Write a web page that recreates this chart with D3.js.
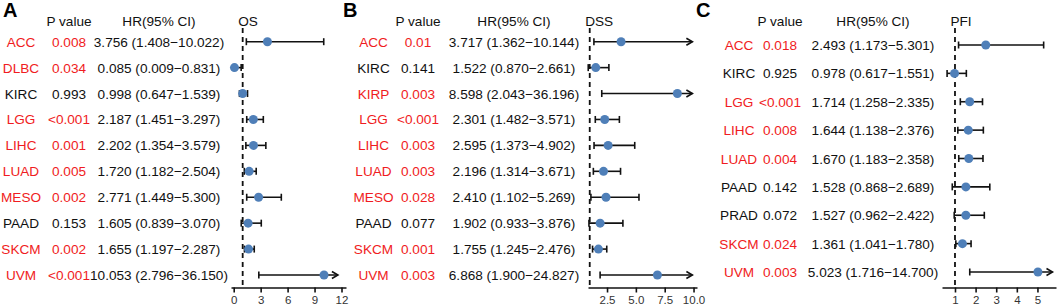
<!DOCTYPE html>
<html>
<head>
<meta charset="utf-8">
<script src="https://cdn.jsdelivr.net/npm/d3@7"></script>
<style>
  body { margin: 0; background: #fff; }
  svg text { font-family: "Liberation Sans", Arial, sans-serif; }
</style>
</head>
<body>
<svg id="chart" width="1059" height="308"></svg>
<script>
// ---- data ----
var osCancers = ["ACC","DLBC","KIRC","LGG","LIHC","LUAD","MESO","PAAD","SKCM","UVM"];
var osP = ["0.008","0.034","0.993","<0.001","0.001","0.005","0.002","0.153","0.002","<0.001"];
var osHR = [3.756, 0.085, 0.998, 2.187, 2.202, 1.720, 2.771, 1.605, 1.655, 10.053];
var osLow = [1.408, 0.009, 0.647, 1.451, 1.354, 1.182, 1.449, 0.839, 1.197, 2.796];
var osHigh = [10.022, 0.831, 1.539, 3.297, 3.579, 2.504, 5.300, 3.070, 2.287, 36.150];

var dssCancers = ["ACC","KIRC","KIRP","LGG","LIHC","LUAD","MESO","PAAD","SKCM","UVM"];
var dssP = ["0.01","0.141","0.003","<0.001","0.003","0.003","0.028","0.077","0.001","0.003"];
var dssHR = [3.717, 1.522, 8.598, 2.301, 2.595, 2.196, 2.410, 1.902, 1.755, 6.868];
var dssLow = [1.362, 0.870, 2.043, 1.482, 1.373, 1.314, 1.102, 0.933, 1.245, 1.900];
var dssHigh = [10.144, 2.661, 36.196, 3.571, 4.902, 3.671, 5.269, 3.876, 2.476, 24.827];

var pfiCancers = ["ACC","KIRC","LGG","LIHC","LUAD","PAAD","PRAD","SKCM","UVM"];
var pfiP = ["0.018","0.925","<0.001","0.008","0.004","0.142","0.072","0.024","0.003"];
var pfiHR = [2.493, 0.978, 1.714, 1.644, 1.670, 1.528, 1.527, 1.361, 5.023];
var pfiLow = [1.173, 0.617, 1.258, 1.138, 1.183, 0.868, 0.962, 1.041, 1.716];
var pfiHigh = [5.301, 1.551, 2.335, 2.376, 2.358, 2.689, 2.422, 1.780, 14.700];

var osTicks = [0, 3, 6, 9, 12];
var dssTicks = [2.5, 5.0, 7.5, 10.0];
var pfiTicks = [1, 2, 3, 4, 5];

// ---- layout per panel ----
var panels = [
  { letter: "A", letterX: 3, title: "OS", cancers: osCancers, p: osP, hr: osHR, lo: osLow, hi: osHigh,
    ticks: osTicks, fmt: d3.format("d"), dom: [-0.3, 12.5], rng: [231, 346], clip: 11.6,
    nameX: 21, pX: 69, hrX: 159, y0: 41.7, y1: 275 },
  { letter: "B", letterX: 343, title: "DSS", cancers: dssCancers, p: dssP, hr: dssHR, lo: dssLow, hi: dssHigh,
    ticks: dssTicks, fmt: d3.format(".1f"), dom: [0.85, 10.3], rng: [588, 697], clip: 9.9,
    nameX: 373.5, pX: 418, hrX: 514, y0: 41.7, y1: 275 },
  { letter: "C", letterX: 696, title: "PFI", cancers: pfiCancers, p: pfiP, hr: pfiHR, lo: pfiLow, hi: pfiHigh,
    ticks: pfiTicks, fmt: d3.format("d"), dom: [0.37, 5.9], rng: [942, 1056], clip: 5.73,
    nameX: 739, pX: 780, hrX: 873, y0: 45, y1: 272 }
];

var svg = d3.select("#chart");
var axisY = 287.5;
var red = "#f01c22", ink = "#111", blue = "#4f7fb8";

function pColor(p) {
  return (p.charAt(0) === "<" || +p < 0.05) ? red : ink;
}

panels.forEach(function(pn) {
  var g = svg.append("g");
  var x = d3.scaleLinear().domain(pn.dom).range(pn.rng);
  var y = d3.scalePoint().domain(d3.range(pn.cancers.length)).range([pn.y0, pn.y1]);

  // panel letter
  g.append("text")
    .attr("x", pn.letterX).attr("y", 17)
    .attr("font-size", "20px").attr("font-weight", "bold")
    .text(pn.letter);

  // headers
  g.append("text").attr("x", pn.pX).attr("y", 26)
    .attr("text-anchor", "middle").attr("font-size", "13.6px").attr("fill", ink)
    .text("P value");
  g.append("text").attr("x", pn.hrX).attr("y", 26)
    .attr("text-anchor", "middle").attr("font-size", "13.6px").attr("fill", ink)
    .text("HR(95% CI)");
  g.append("text").attr("x", x(1) - 4.5).attr("y", 26)
    .attr("font-size", "13.6px").attr("fill", ink)
    .text(pn.title);

  var rows = d3.range(pn.cancers.length);

  // text columns
  g.selectAll(".nm").data(rows).enter().append("text")
    .attr("x", pn.nameX).attr("y", function(i) { return y(i) + 5; })
    .attr("text-anchor", "middle").attr("font-size", "13.6px")
    .attr("fill", function(i) { return pColor(pn.p[i]); })
    .text(function(i) { return pn.cancers[i]; });

  g.selectAll(".pv").data(rows).enter().append("text")
    .attr("x", pn.pX).attr("y", function(i) { return y(i) + 5; })
    .attr("text-anchor", "middle").attr("font-size", "13.6px")
    .attr("fill", function(i) { return pColor(pn.p[i]); })
    .text(function(i) { return pn.p[i]; });

  g.selectAll(".hr").data(rows).enter().append("text")
    .attr("x", pn.hrX).attr("y", function(i) { return y(i) + 5; })
    .attr("text-anchor", "middle").attr("font-size", "13.6px")
    .attr("fill", ink)
    .text(function(i) {
      return pn.hr[i].toFixed(3) + " (" + pn.lo[i].toFixed(3) + "\u2212" + pn.hi[i].toFixed(3) + ")";
    });

  // reference line at HR = 1
  g.append("line")
    .attr("x1", x(1)).attr("x2", x(1))
    .attr("y1", 28).attr("y2", axisY)
    .attr("stroke", ink).attr("stroke-width", 1.8)
    .attr("stroke-dasharray", "5,4");

  // error bars
  rows.forEach(function(i) {
    var yy = y(i);
    var clipped = pn.hi[i] > pn.clip;
    var xr = x(clipped ? pn.clip : pn.hi[i]);
    var xl = x(pn.lo[i]);
    g.append("line").attr("x1", xl).attr("x2", xr).attr("y1", yy).attr("y2", yy)
      .attr("stroke", ink).attr("stroke-width", 1.6);
    g.append("line").attr("x1", xl).attr("x2", xl).attr("y1", yy - 3.5).attr("y2", yy + 3.5)
      .attr("stroke", ink).attr("stroke-width", 1.6);
    if (clipped) {
      g.append("path")
        .attr("d", "M" + (xr - 6) + "," + (yy - 3.5) + "L" + xr + "," + yy + "L" + (xr - 6) + "," + (yy + 3.5))
        .attr("fill", "none").attr("stroke", ink).attr("stroke-width", 1.6);
    } else {
      g.append("line").attr("x1", xr).attr("x2", xr).attr("y1", yy - 3.5).attr("y2", yy + 3.5)
        .attr("stroke", ink).attr("stroke-width", 1.6);
    }
  });

  g.selectAll(".pt").data(rows).enter().append("circle")
    .attr("cx", function(i) { return x(pn.hr[i]); })
    .attr("cy", function(i) { return y(i); })
    .attr("r", 4.5)
    .attr("fill", blue);

  // axis
  var ax = g.append("g")
    .attr("transform", "translate(0," + axisY + ")")
    .call(d3.axisBottom(x).tickValues(pn.ticks).tickFormat(pn.fmt).tickSize(5).tickSizeOuter(0));
  ax.select(".domain").attr("stroke", ink).attr("stroke-width", 1.6);
  ax.selectAll(".tick line").attr("stroke", ink).attr("stroke-width", 1.6);
  ax.selectAll(".tick text")
    .attr("font-family", "Liberation Sans, Arial, sans-serif")
    .attr("font-size", "11.5px").attr("fill", "#333").attr("y", 7).attr("dy", "0.8em");
});
</script>
</body>
</html>
